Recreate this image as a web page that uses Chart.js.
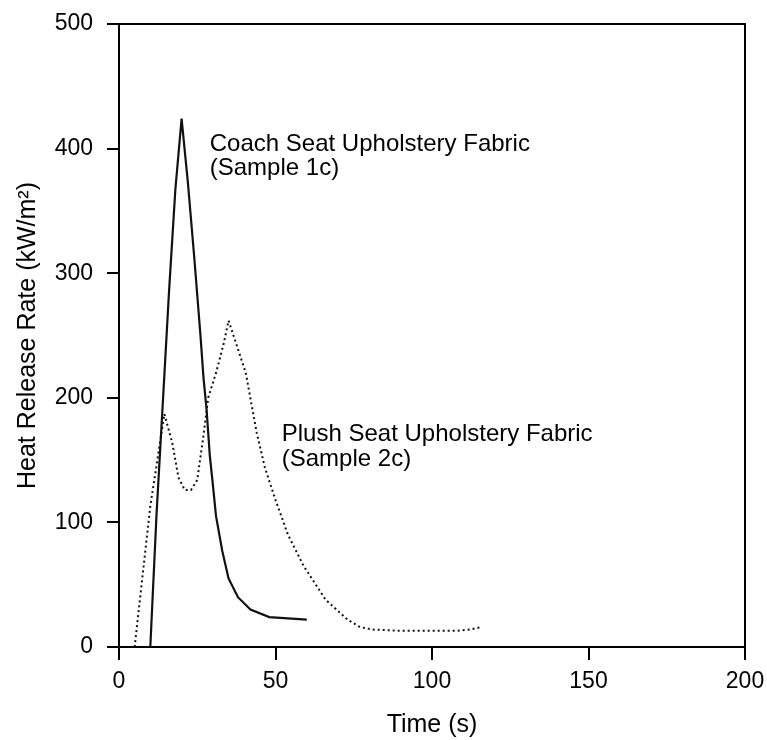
<!DOCTYPE html>
<html>
<head>
<meta charset="utf-8">
<script src="https://cdn.jsdelivr.net/npm/chart.js@4.4.1/dist/chart.umd.min.js"></script>
<style>
  html, body { margin: 0; padding: 0; background: #fff; }
  #holder { width: 767px; height: 740px; }
</style>
</head>
<body>
<div id="holder"><canvas id="chart-area"></canvas></div>
<script>
// coach seat fabric (sample 1c), solid line
var coachTime = [10, 12, 14, 16, 18, 20, 22, 24, 26, 27, 28, 29, 30, 31, 33, 35, 38, 42, 48, 60];
var coachHrr  = [0, 107, 196, 286, 367, 424, 373, 314, 251, 216, 190, 154, 130, 105, 77, 55, 40, 30, 24, 22];

// plush seat fabric (sample 2c), dotted line
var plushTime = [5, 10, 14.5, 17, 19, 21, 23, 25, 27, 28.5, 31, 33.5, 35, 40.5, 44, 46.5, 50, 54, 59, 66, 73, 77, 81, 90, 100, 108, 112, 116];
var plushHrr  = [0, 113, 187, 164, 136, 126, 126, 134, 170, 200, 220, 244, 262, 220, 172, 145, 118, 90, 65, 38, 22, 16, 14, 13, 13, 13, 14, 16];

var xTicks = [0, 50, 100, 150, 200];
var yTicks = [0, 100, 200, 300, 400, 500];

// labels in the plot: text lines and where their baselines sit (data units)
var notes = [
    { lines: ['Coach Seat Upholstery Fabric', '(Sample 1c)'], x: 29, y: [398, 379] },
    { lines: ['Plush Seat Upholstery Fabric', '(Sample 2c)'], x: 52, y: [165, 145] }
];

var fontFamily = '"Liberation Sans", Arial, sans-serif';

function toPoints(xs, ys) {
    var pts = [];
    for (var i = 0; i < xs.length; i++) {
        pts.push({ x: xs[i], y: ys[i] });
    }
    return pts;
}

var framePlugin = {
    id: 'frame',
    afterDraw: function (chart) {
        var ctx = chart.ctx;
        var a = chart.chartArea;
        ctx.save();
        ctx.strokeStyle = '#000';
        ctx.lineWidth = 2;
        ctx.beginPath();
        ctx.moveTo(a.left, a.top);
        ctx.lineTo(a.right, a.top);
        ctx.lineTo(a.right, a.bottom);
        ctx.stroke();

        ctx.fillStyle = '#000';
        ctx.font = '24px ' + fontFamily;
        ctx.textAlign = 'left';
        ctx.textBaseline = 'alphabetic';
        var xs = chart.scales.x, ys = chart.scales.y;
        notes.forEach(function (n) {
            n.lines.forEach(function (t, i) {
                ctx.fillText(t, xs.getPixelForValue(n.x), ys.getPixelForValue(n.y[i]));
            });
        });
        ctx.restore();
    }
};

var config = {
    type: 'scatter',
    data: {
        datasets: [{
            label: 'Coach Seat Upholstery Fabric (Sample 1c)',
            data: toPoints(coachTime, coachHrr),
            showLine: true,
            borderColor: '#111',
            borderWidth: 2.2,
            pointRadius: 0,
            tension: 0
        }, {
            label: 'Plush Seat Upholstery Fabric (Sample 2c)',
            data: toPoints(plushTime, plushHrr),
            showLine: true,
            borderColor: '#111',
            borderWidth: 2,
            borderDash: [2, 3],
            pointRadius: 0,
            tension: 0
        }]
    },
    options: {
        responsive: false,
        animation: false,
        layout: { padding: { top: 24, right: 22, left: 0, bottom: 0 } },
        plugins: {
            legend: { display: false },
            tooltip: { enabled: false }
        },
        scales: {
            x: {
                type: 'linear',
                min: 0,
                max: 200,
                afterFit: function (s) {
                    s.height = 93;
                    s.paddingLeft = 0;
                    s.paddingRight = 0;
                },
                afterBuildTicks: function (s) { s.ticks = xTicks.map(function (v) { return { value: v }; }); },
                border: { display: true, color: '#000', width: 2 },
                grid: { drawOnChartArea: false, drawTicks: true, tickLength: 13, color: '#000', lineWidth: 2 },
                ticks: { color: '#000', padding: 8, font: { family: fontFamily, size: 23 }, maxRotation: 0 },
                title: {
                    display: true,
                    text: 'Time (s)',
                    color: '#000',
                    font: { family: fontFamily, size: 25 },
                    padding: { top: 0, bottom: 0 }
                }
            },
            y: {
                type: 'linear',
                min: 0,
                max: 500,
                afterFit: function (s) {
                    s.width = 119;
                    s.paddingTop = 0;
                    s.paddingBottom = 0;
                },
                afterBuildTicks: function (s) { s.ticks = yTicks.map(function (v) { return { value: v }; }); },
                border: { display: true, color: '#000', width: 2 },
                grid: { drawOnChartArea: false, drawTicks: true, tickLength: 12, color: '#000', lineWidth: 2 },
                ticks: { color: '#000', padding: 14, font: { family: fontFamily, size: 23 } },
                title: {
                    display: true,
                    text: 'Heat Release Rate (kW/m²)',
                    color: '#000',
                    font: { family: fontFamily, size: 25 },
                    padding: { top: 13, bottom: 0 }
                }
            }
        }
    },
    plugins: [framePlugin]
};

function init() {
    var canvas = document.getElementById('chart-area');
    canvas.width = 767;
    canvas.height = 740;
    canvas.style.width = '767px';
    canvas.style.height = '740px';
    window.myChart = new Chart(canvas.getContext('2d'), config);
}
init();
</script>
</body>
</html>
